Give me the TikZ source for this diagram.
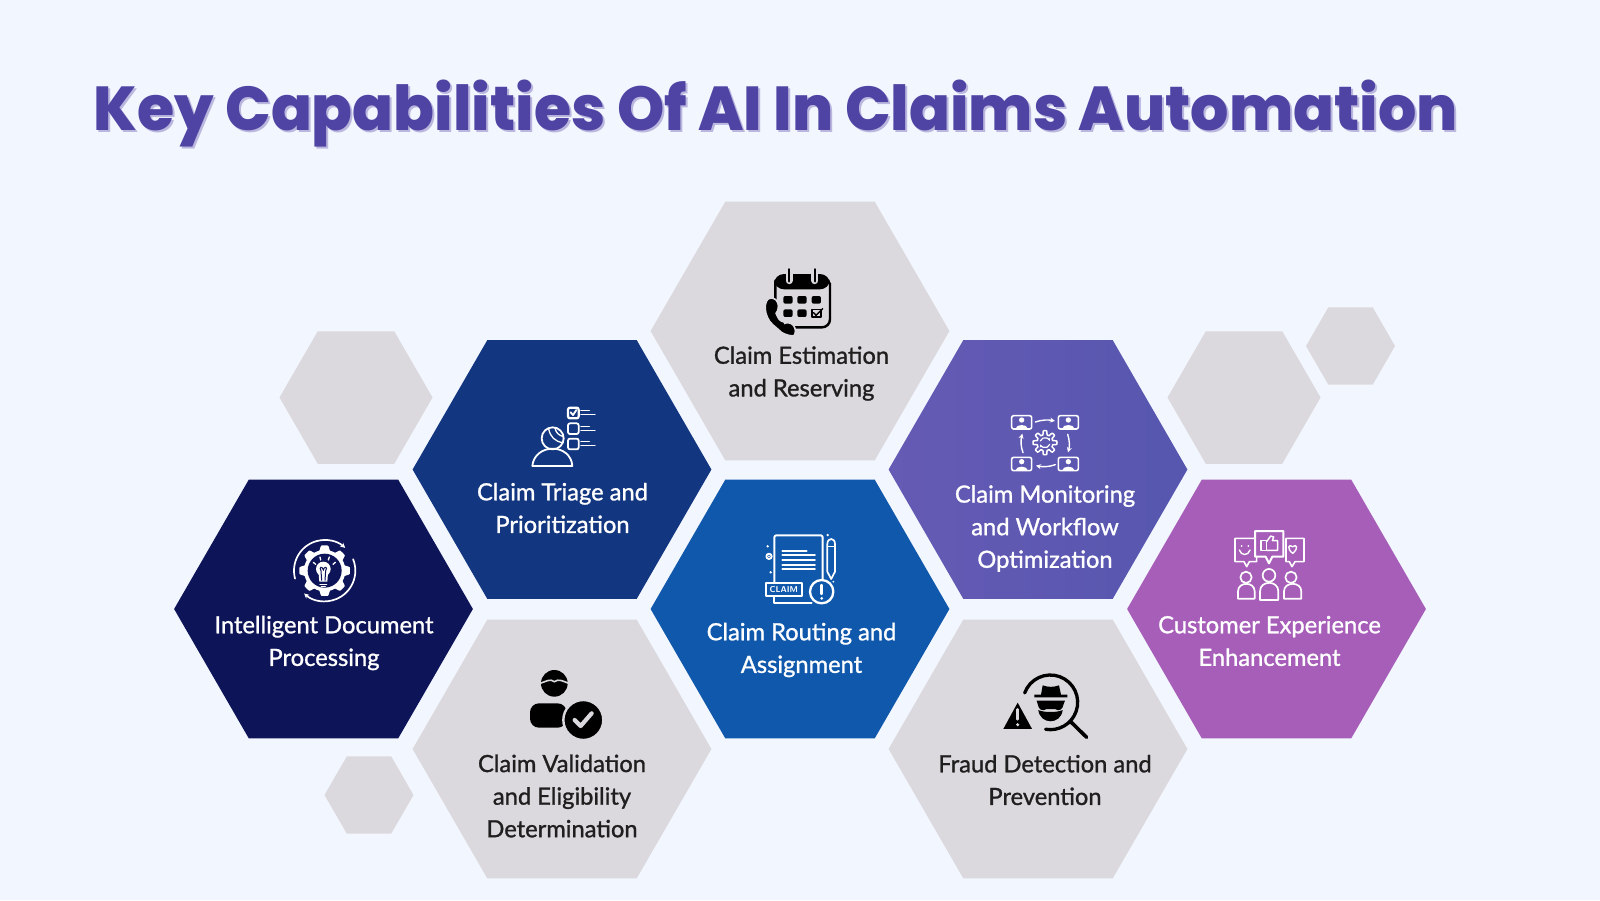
\documentclass[tikz,border=0pt]{standalone}
\usepackage{fontspec}
\usepackage{xcolor}
\usetikzlibrary{arrows.meta,shapes.geometric}
\setmainfont{Lato}
\newfontfamily\titlefont{Poppins ExtraBold}[FakeStretch=0.971]
\newfontfamily\labfont{Lato}[FakeBold=1.1]
\definecolor{claimPaper}{RGB}{242,246,255}
\definecolor{claimGrey}{RGB}{219,217,221}
\definecolor{claimNavy}{RGB}{13,20,87}
\definecolor{claimBlue}{RGB}{18,54,128}
\definecolor{claimRoyal}{RGB}{15,88,172}
\definecolor{claimIndigo}{RGB}{94,90,180}
\definecolor{claimPurple}{RGB}{166,94,184}
\definecolor{claimTitle}{RGB}{79,68,163}
\definecolor{claimShadow}{RGB}{186,182,222}
\newcommand{\gearpath}[5]{plot[domain=0:360,samples=145,variable=\gg]
  ({#1+(#3+#4*min(1,max(-1,2.5*cos(#5*\gg))))*cos(\gg)},
   {#2+(#3+#4*min(1,max(-1,2.5*cos(#5*\gg))))*sin(\gg)})}

\begin{document}
\begin{tikzpicture}[
    x=1pt, y=-1pt,
    hexbig/.style={regular polygon, regular polygon sides=6, minimum size=298.8pt,
                   inner sep=0pt, outer sep=0pt},
    hexmid/.style={regular polygon, regular polygon sides=6, minimum size=153pt,
                   inner sep=0pt, outer sep=0pt, fill=claimGrey},
    hextiny/.style={regular polygon, regular polygon sides=6, minimum size=89pt,
                   inner sep=0pt, outer sep=0pt, fill=claimGrey},
    lab/.style={font=\labfont\fontsize{23.7}{32.6}\selectfont, align=center,
                inner sep=0pt, text=black!88},
    labw/.style={lab, text=white},
    ttl/.style={font=\titlefont\fontsize{62}{66}\selectfont, anchor=base west, inner sep=0pt},
    wline/.style={draw=white, line width=1.8pt, line cap=round, line join=round},
    kline/.style={draw=black, line width=1.6pt, line cap=round, line join=round},
    icon/.style={shift={#1}, scale=0.3333}
  ]
  \fill[claimPaper] (0,0) rectangle (1600,900);
  \useasboundingbox (0,0) rectangle (1600,900);

  \node[ttl, text=claimShadow] (titleShadow) at (95.5,132.5) {Key Capabilities Of AI In Claims Automation};
  \node[ttl, text=claimTitle] (title) at (93.5,130.5) {Key Capabilities Of AI In Claims Automation};

  \node[hexmid]  (hexLeft)     at (356,397.5) {};
  \node[hexmid]  (hexRight)    at (1244,397.5) {};
  \node[hextiny] (hexTop)      at (1350.5,346) {};
  \node[hextiny] (hexLow)      at (369,795) {};

  \node[hexbig, fill=claimGrey]   (hexEstimation) at (800,331) {};
  \node[hexbig, fill=claimBlue]   (hexTriage)     at (562,469.5) {};
  \node[hexbig, left color=claimIndigo!90!claimPurple, right color=claimIndigo!90!claimBlue] (hexMonitoring) at (1038,469.5) {};
  \node[hexbig, fill=claimNavy]   (hexDocument)   at (323.5,609) {};
  \node[hexbig, fill=claimRoyal]  (hexRouting)    at (800,609) {};
  \node[hexbig, fill=claimPurple] (hexCustomer)   at (1276.5,609) {};
  \node[hexbig, fill=claimGrey]   (hexValidation) at (562,749) {};
  \node[hexbig, fill=claimGrey]   (hexFraud)      at (1038,749) {};

  \node[lab]  (labEstimation) at (801.5,373.5) {Claim Estimation\\and Reserving};
  \node[labw] (labTriage)     at (562.5,508)   {Claim Triage and\\Prioritization};
  \node[labw] (labMonitoring) at (1045,528.5)  {Claim Monitoring\\and Workflow\\Optimization};
  \node[labw] (labDocument)   at (324,643)     {Intelligent Document\\Processing};
  \node[labw] (labRouting)    at (801.5,650)   {Claim Routing and\\Assignment};
  \node[labw] (labCustomer)   at (1269.5,641)  {Customer Experience\\Enhancement};
  \node[lab]  (labValidation) at (562,796)     {Claim Validation\\and Eligibility\\Determination};
  \node[lab]  (labFraud)      at (1045,780)    {Fraud Detection and\\Prevention};

  % calendar and phone
  \begin{scope}[icon={(700,250)}]
    \draw[kline, line width=2.4pt, rounded corners=8pt] (226,100) -- (226,232) -- (390,232) -- (390,100);
    \fill[black, rounded corners=10pt] (222,118) -- (222,72) -- (390,72) -- (390,118) -- cycle;
    \foreach \rx in {267,345} {
      \draw[draw=claimGrey, line width=7pt, line cap=round] (\rx,72) -- (\rx,92);
      \draw[kline, line width=2.6pt] (\rx,58) -- (\rx,94);
    }
    \foreach \gx/\gy in {250/138,292/138,335/138,250/178,292/178} {
      \fill[black, rounded corners=2pt] (\gx,\gy) rectangle +(28,23);
    }
    \draw[kline, line width=1.2pt] (336,179) rectangle (363,201);
    \draw[kline, line width=1.4pt] (341,188) -- (348,196) -- (368,176);
    \draw[draw=claimGrey, fill=black, line width=1.6pt, rounded corners=6pt]
      (226,140) .. controls (190,150) and (190,200) .. (232,236)
      .. controls (250,252) and (280,262) .. (292,240) -- (268,212) -- (250,222)
      .. controls (235,205) and (228,190) .. (240,176) -- cycle;
  \end{scope}

  % person and checklist
  \begin{scope}[icon={(500,390)}]
    \draw[wline] (158,145) circle (33pt);
    \draw[wline, line width=1.3pt] (146,116) .. controls (150,140) and (165,155) .. (189,158);
    \draw[wline, line width=1.3pt] (165,114) .. controls (168,128) and (175,135) .. (190,140);
    \draw[wline] (97,228) .. controls (100,195) and (128,176) .. (158,176)
      .. controls (188,176) and (215,195) .. (217,228) -- cycle;
    \draw[wline, line width=2.2pt, rounded corners=2pt] (204,53) rectangle (236,85);
    \draw[wline, rounded corners=2pt] (204,100) rectangle (236,132);
    \draw[wline, rounded corners=2pt] (204,146) rectangle (236,178);
    \draw[wline, line width=1.8pt] (212,67) -- (219,75) -- (229,60);
    \foreach \ly in {62,109,155} {
      \draw[wline, line width=1.5pt] (243,\ly) -- (268,\ly);
      \draw[wline, line width=1.5pt] (243,\ly+12) -- (285,\ly+12);
    }
  \end{scope}

  % people around a gear
  \begin{scope}[icon={(980,400)}]
    \foreach \cx/\cy in {125/67,265/67,125/192,265/192} {
      \draw[wline, line width=1.6pt, rounded corners=2pt] (\cx-30,\cy-20) rectangle (\cx+30,\cy+20);
      \fill[white] (\cx,\cy-7) circle (8pt);
      \fill[white] (\cx-19,\cy+20) .. controls (\cx-17,\cy+4) and (\cx+17,\cy+4) .. (\cx+19,\cy+20) -- cycle;
    }
    \draw[wline, line width=1.4pt, -{Stealth[length=5pt,width=5pt]}] (166,66) .. controls (185,59) and (205,59) .. (225,63);
    \draw[wline, line width=1.4pt, -{Stealth[length=5pt,width=5pt]}] (263,103) .. controls (269,120) and (269,140) .. (264,157);
    \draw[wline, line width=1.4pt, -{Stealth[length=5pt,width=5pt]}] (226,194) .. controls (207,201) and (187,201) .. (168,197);
    \draw[wline, line width=1.4pt, -{Stealth[length=5pt,width=5pt]}] (129,158) .. controls (122,140) and (122,120) .. (127,101);
    \draw[wline, line width=1.5pt] \gearpath{195}{128}{30}{6}{8} -- cycle;
    \draw[wline, line width=1.2pt, -{Stealth[length=3pt,width=3pt]}] (195,128) ++(160:15pt) arc[start angle=160, end angle=20, radius=15pt];
    \draw[wline, line width=1.2pt, -{Stealth[length=3pt,width=3pt]}] (195,128) ++(-20:15pt) arc[start angle=-20, end angle=-160, radius=15pt];
  \end{scope}

  % gear and bulb
  \begin{scope}[icon={(270,520)}]
    \fill[white] \gearpath{164}{152}{69}{7}{8} -- cycle;
    \fill[claimNavy] (164,152) circle (51pt);
    \draw[wline, line width=1.7pt, -{Stealth[length=5pt,width=5pt]}] (164,152) ++(195:92pt) arc[start angle=195, end angle=48, radius=92pt];
    \draw[wline, line width=1.7pt, -{Stealth[length=5pt,width=5pt]}] (164,152) ++(22:92pt) arc[start angle=22, end angle=-132, radius=92pt];
    \fill[white] (160,147) circle (22pt);
    \fill[white] (146,160) -- (174,160) -- (172,185) -- (148,185) -- cycle;
    \draw[wline, line width=1.3pt] (150,193) -- (170,193);
    \draw[wline, line width=1.3pt] (154,200) -- (166,200);
    \draw[draw=claimNavy, line width=1pt] (155,182) -- (153,152) .. controls (145,140) and (158,138) .. (160,150)
      .. controls (162,138) and (175,140) .. (167,152) -- (165,182);
    \foreach \sx/\sy/\ex/\ey in {130/127/137/133,150/111/152/120,178/111/175/120,196/127/189/133} {
      \draw[wline, line width=1.3pt] (\sx,\sy) -- (\ex,\ey);
    }
  \end{scope}

  % claim document
  \begin{scope}[icon={(740,520)}]
    \draw[wline, line width=2pt, rounded corners=2pt] (103,190) -- (103,46) -- (248,46) -- (248,190);
    \draw[wline, line width=2pt] (103,228) -- (103,248) -- (215,248);
    \foreach \ly/\lx in {92/200,105/225,120/225,135/225,148/225} {
      \draw[wline, line width=1.7pt] (127,\ly) -- (\lx,\ly);
    }
    \draw[wline, line width=2pt, fill=claimRoyal] (78,190) rectangle (185,228);
    \node[text=white, font=\sffamily\bfseries\fontsize{8.5}{9}\selectfont, inner sep=0pt] (tagClaim) at (131.5,209) {CLAIM};
    \draw[wline, line width=1.7pt] (262,72) .. controls (262,52) and (285,52) .. (285,72)
      -- (285,155) -- (273.5,177) -- (262,155) -- cycle;
    \draw[wline, line width=1.2pt] (262,80) -- (285,80);
    \draw[wline, line width=2.3pt, fill=claimRoyal] (245,215) circle (35pt);
    \draw[wline, line width=2.4pt] (245,195) -- (245,222);
    \fill[white] (245,235) circle (4.5pt);
    \draw[wline, line width=1.8pt] (87,109) circle (8pt);
    \fill[white] (87,109) circle (3pt);
    \foreach \dx/\dy/\dr in {83/79/4,92/157/4,263/45/4,280/185/3} {
      \fill[white] (\dx,\dy) circle (\dr pt);
    }
  \end{scope}

  % bubbles and customers
  \begin{scope}[icon={(1210,520)}]
    \draw[wline, line width=1.6pt] (75,55) -- (140,55) -- (140,125) -- (118,125) -- (110,140) -- (102,125) -- (75,125) -- cycle;
    \draw[wline, line width=1.6pt] (228,55) -- (282,55) -- (282,125) -- (255,125) -- (246,140) -- (238,125) -- (228,125) -- cycle;
    \draw[wline, line width=2pt, fill=claimPurple] (135,33) -- (220,33) -- (220,110) -- (187,110) -- (177,130) -- (167,110) -- (135,110) -- cycle;
    \fill[white] (95,78) circle (3pt);
    \fill[white] (115,78) circle (3pt);
    \draw[wline, line width=1.4pt] (88,90) .. controls (93,108) and (115,108) .. (120,90);
    \draw[wline, line width=1.4pt] (248,100) .. controls (230,86) and (235,70) .. (248,80) .. controls (261,70) and (266,86) .. (248,100) -- cycle;
    \draw[wline, line width=1.4pt] (153,62) rectangle (169,91);
    \draw[wline, line width=1.4pt] (169,66) -- (182,48) -- (191,51) -- (187,62) -- (203,62) -- (203,91) -- (169,91);
    \draw[wline, line width=1.7pt] (108,172) circle (17pt);
    \draw[wline, line width=1.7pt] (177,166) circle (19pt);
    \draw[wline, line width=1.7pt] (243,172) circle (17pt);
    \draw[wline, line width=1.7pt] (84,236) -- (84,214) .. controls (84,184) and (134,184) .. (134,214) -- (134,236) -- cycle;
    \draw[wline, line width=1.7pt] (150,240) -- (150,214) .. controls (150,180) and (205,180) .. (205,214) -- (205,240) -- cycle;
    \draw[wline, line width=1.7pt] (222,236) -- (222,214) .. controls (222,184) and (274,184) .. (274,214) -- (274,236) -- cycle;
  \end{scope}

  % validated person
  \begin{scope}[icon={(510,660)}]
    \fill[black] (133,70) circle (40pt);
    \draw[draw=claimGrey, line width=1.6pt] (90,70) .. controls (110,64) and (120,55) .. (133,65) .. controls (146,55) and (160,64) .. (176,70);
    \fill[black, rounded corners=9pt] (60,203) -- (60,130) -- (170,130) -- (170,203) -- cycle;
    \draw[draw=claimGrey, fill=black, line width=2.4pt] (220,180) circle (60pt);
    \draw[draw=claimGrey, line width=4.2pt, line cap=round, line join=round] (194,180) -- (212,198) -- (245,160);
  \end{scope}

  % fraud magnifier
  \begin{scope}[icon={(985,660)}]
    \draw[kline, line width=3.3pt] (196,127) ++(160:82pt) arc[start angle=160, end angle=-100, radius=82pt];
    \draw[kline, line width=3.6pt] (258,186) -- (305,232);
    \fill[black] (148,104) -- (168,104) -- (173,76) .. controls (190,82) and (205,82) .. (222,76) -- (228,104) -- (247,104) -- (247,112) -- (148,112) -- cycle;
    \fill[black] (155,122) -- (240,122) -- (236,132) .. controls (234,148) and (222,156) .. (210,147) -- (185,147) .. controls (172,156) and (160,148) .. (158,132) -- cycle;
    \fill[black] (160,150) .. controls (175,158) and (218,158) .. (233,150) .. controls (228,195) and (165,195) .. (160,150) -- cycle;
    \draw[draw=claimGrey, line width=1.6pt, fill=black, line join=round] (98,122) -- (50,210) -- (146,210) -- cycle;
    \draw[draw=claimGrey, line width=2.4pt, line cap=round] (98,148) -- (98,178);
    \fill[claimGrey] (98,194) circle (5pt);
  \end{scope}
\end{tikzpicture}
\end{document}
